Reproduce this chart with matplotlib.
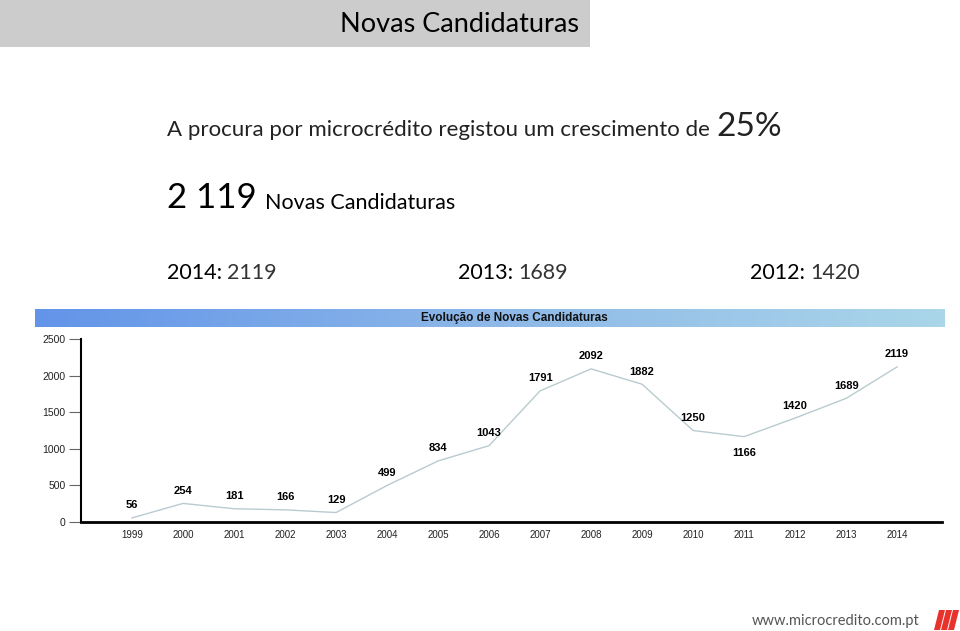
import numpy as np
import matplotlib
matplotlib.use("Agg")
import matplotlib.pyplot as plt
from matplotlib.colors import LinearSegmentedColormap
from matplotlib.patches import Rectangle, Polygon

# Novas candidaturas por ano
years = [1999, 2000, 2001, 2002, 2003, 2004, 2005, 2006,
         2007, 2008, 2009, 2010, 2011, 2012, 2013, 2014]
values = [56, 254, 181, 166, 129, 499, 834, 1043,
          1791, 2092, 1882, 1250, 1166, 1420, 1689, 2119]

summary_years = ["2014", "2013", "2012"]
summary_values = [2119, 1689, 1420]

yticks = [0, 500, 1000, 1500, 2000, 2500]

W, H = 960, 631
fig = plt.figure(figsize=(W / 100, H / 100), dpi=100)
fig.patch.set_facecolor("white")

def fx(px):
    return px / W

def fy(py):
    return 1 - py / H

txt_font = ["Lato", "DejaVu Sans"]
chart_font = ["Liberation Sans", "DejaVu Sans"]

# Header box
fig.patches.append(Rectangle((0, fy(47)), fx(590), 47 / H, transform=fig.transFigure,
                             facecolor="#cccccc", edgecolor="none", zorder=0))
fig.text(fx(579), fy(24), "Novas Candidaturas", ha="right", va="center",
         fontsize=19.5, family=txt_font, color="black")

# Headline texts
fig.text(fx(167), fy(130), "A procura por microcrédito registou um crescimento de",
         ha="left", va="center", fontsize=16, family=txt_font, color="#222222")
fig.text(fx(716), fy(127), "25%", ha="left", va="center", fontsize=24,
         family=txt_font, color="#222222")

fig.text(fx(167), fy(198), "2 119", ha="left", va="center", fontsize=25,
         family=txt_font, color="black")
fig.text(fx(265), fy(203), "Novas Candidaturas", ha="left", va="center",
         fontsize=15.5, family=txt_font, color="black")

xs = [167, 458, 750]
for x, yr, v in zip(xs, summary_years, summary_values):
    t1 = fig.text(fx(x), fy(273), yr + ":", ha="left", va="center", fontsize=15.5,
                  family=txt_font, color="black")
    fig.canvas.draw()
    bb = t1.get_window_extent()
    fig.text(bb.x1 / W + fx(5), fy(273), str(v), ha="left", va="center",
             fontsize=15.5, family=txt_font, color="#333333")

# Gradient title banner
bax = fig.add_axes([fx(35), fy(327), fx(910), 18 / H])
grad = np.linspace(0, 1, 256).reshape(1, -1)
cmap = LinearSegmentedColormap.from_list("banner", ["#6294e8", "#8db8e8", "#aad6ea"])
bax.imshow(grad, aspect="auto", cmap=cmap, extent=[0, 1, 0, 1])
bax.set_axis_off()
bax.text(0.527, 0.5, "Evolução de Novas Candidaturas", ha="center", va="center",
         fontsize=8.5, fontweight="bold", family=chart_font, color="#111111")

# Line chart
ax = fig.add_axes([fx(81), fy(522), fx(942 - 81), (522 - 339) / H])
ax.plot(years, values, color="#b9cbd0", linewidth=1.0)
ax.set_xlim(1998, 2014.88)
ax.set_ylim(0, 2500)
ax.set_yticks(yticks)
ax.set_xticks(years)
ax.tick_params(axis="y", length=9, width=0.8, color="#666666", labelsize=7.5, pad=2,
               labelcolor="#222222")
ax.tick_params(axis="x", length=0, labelsize=7, pad=6, labelcolor="#222222")
for lab in ax.get_xticklabels() + ax.get_yticklabels():
    lab.set_family(chart_font)
for s in ["top", "right"]:
    ax.spines[s].set_visible(False)
ax.spines["left"].set_linewidth(1.5)
ax.spines["bottom"].set_linewidth(2)
ax.patch.set_alpha(0)

for x, v in zip(years, values):
    dy = -12 if x == 2011 else 9
    ax.annotate(str(v), (x, v), xytext=(0, dy), textcoords="offset points",
                ha="center", va="center", fontsize=8, fontweight="bold",
                family=chart_font)

# Footer
fig.text(fx(920), fy(621), "www.microcredito.com.pt", ha="right", va="center",
         fontsize=10.5, family=txt_font, color="#555555")
for dx in [0, 7, 14]:
    x0 = 934 + dx
    pts = [(fx(x0), fy(630)), (fx(x0 + 6), fy(630)), (fx(x0 + 11), fy(610)), (fx(x0 + 5), fy(610))]
    fig.patches.append(Polygon(pts, closed=True, transform=fig.transFigure,
                               facecolor="#e8322c", edgecolor="none"))

fig.savefig("out.png", dpi=100)
